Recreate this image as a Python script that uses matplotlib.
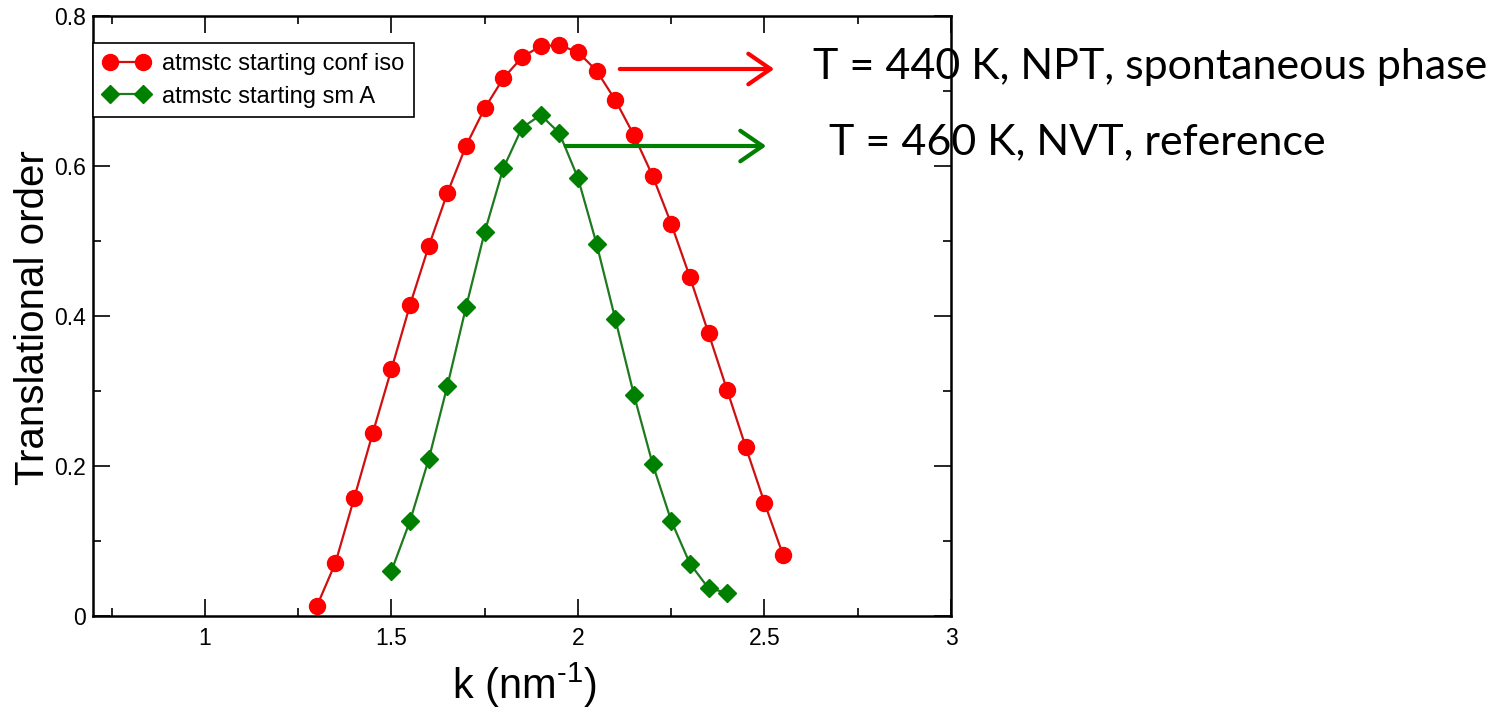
import matplotlib
matplotlib.use('Agg')
import matplotlib.pyplot as plt
from matplotlib.patches import FancyArrowPatch
from matplotlib.ticker import MultipleLocator

plt.rcParams['font.family'] = ['Liberation Sans', 'DejaVu Sans']
plt.rcParams['mathtext.fontset'] = 'custom'
plt.rcParams['mathtext.rm'] = 'Liberation Sans'
plt.rcParams['mathtext.default'] = 'regular'

# translational order vs k, two starting configurations
k_iso = [1.30, 1.35, 1.40, 1.45, 1.50, 1.55, 1.60, 1.65, 1.70, 1.75, 1.80, 1.85, 1.90,
         1.95, 2.00, 2.05, 2.10, 2.15, 2.20, 2.25, 2.30, 2.35, 2.40, 2.45, 2.50, 2.55]
order_iso = [0.013, 0.071, 0.157, 0.244, 0.329, 0.415, 0.493, 0.564, 0.627, 0.677, 0.717,
             0.745, 0.760, 0.761, 0.752, 0.727, 0.688, 0.641, 0.587, 0.523, 0.452, 0.377,
             0.301, 0.225, 0.151, 0.081]

k_smA = [1.50, 1.55, 1.60, 1.65, 1.70, 1.75, 1.80, 1.85, 1.90, 1.95,
         2.00, 2.05, 2.10, 2.15, 2.20, 2.25, 2.30, 2.35, 2.40]
order_smA = [0.060, 0.127, 0.209, 0.307, 0.412, 0.512, 0.597, 0.651, 0.668, 0.644,
             0.584, 0.496, 0.396, 0.295, 0.203, 0.127, 0.070, 0.037, 0.031]

labels = ['atmstc starting conf iso', 'atmstc starting sm A']
notes = ['T = 440 K, NPT, spontaneous phase', 'T = 460 K, NVT, reference']

W, H = 1504, 711
fig = plt.figure(figsize=(W / 100, H / 100), dpi=100)
ax = fig.add_axes([93 / W, 1 - 616 / H, (951 - 93) / W, (616 - 16) / H])

ax.plot(k_iso, order_iso, '-', color='#d01010', lw=1.6, marker='o', ms=11.5,
        mfc='#ff0000', mec='#ff0000', label=labels[0])
ax.plot(k_smA, order_smA, '-', color='#1e7a1e', lw=1.6, marker='D', ms=9,
        mfc='#008000', mec='#008000', label=labels[1])

ax.set_xlim(0.7, 3.0)
ax.set_ylim(0, 0.8)
ax.xaxis.set_minor_locator(MultipleLocator(0.25))
ax.yaxis.set_minor_locator(MultipleLocator(0.1))
ax.set_xticks([1, 1.5, 2, 2.5, 3])
ax.set_xticklabels(['1', '1.5', '2', '2.5', '3'])
ax.set_yticks([0, 0.2, 0.4, 0.6, 0.8])
ax.set_yticklabels(['0', '0.2', '0.4', '0.6', '0.8'])
ax.tick_params(which='both', direction='in', top=True, right=True, width=1.2,
               labelsize=16.5, colors='black')
ax.tick_params(which='major', length=12)
ax.tick_params(which='minor', length=6)
ax.tick_params(axis='x', which='major', pad=8)
ax.tick_params(axis='y', which='major', pad=5)
for s in ax.spines.values():
    s.set_linewidth(1.8)

ax.set_xlabel('k (nm$^{\u20101}$)', fontsize=30)
ax.xaxis.set_label_coords((524 - 93) / 858, -(661 - 616) / 600)
ax.set_ylabel('Translational order', fontsize=29)
ax.yaxis.set_label_coords(-(93 - 52) / 858, (616 - 318) / 600)

leg = ax.legend(loc='upper left', bbox_to_anchor=(0, 1 - 27 / 600), borderaxespad=0,
                fontsize=17, numpoints=2, handlelength=2.0, handletextpad=0.5,
                borderpad=0.42, labelspacing=0.45, fancybox=False, framealpha=1,
                edgecolor='black')
leg.get_frame().set_linewidth(1.2)

# arrows and notes, placed in figure pixels
arrow_kw = dict(arrowstyle='->,head_length=0.8,head_width=0.55', lw=3.0,
                mutation_scale=20, transform=None)
fig.add_artist(FancyArrowPatch((617, H - 69), (777, H - 69), color='#ff0000', **arrow_kw))
fig.add_artist(FancyArrowPatch((563, H - 146), (769, H - 146), color='#008000', **arrow_kw))

note_font = ['Lato', 'DejaVu Sans']
fig.text(813 / W, 1 - 79 / H, notes[0], fontsize=31, family=note_font,
         ha='left', va='baseline')
fig.text(829 / W, 1 - 154 / H, notes[1], fontsize=31, family=note_font,
         ha='left', va='baseline')

fig.savefig('out.png', dpi=100)
